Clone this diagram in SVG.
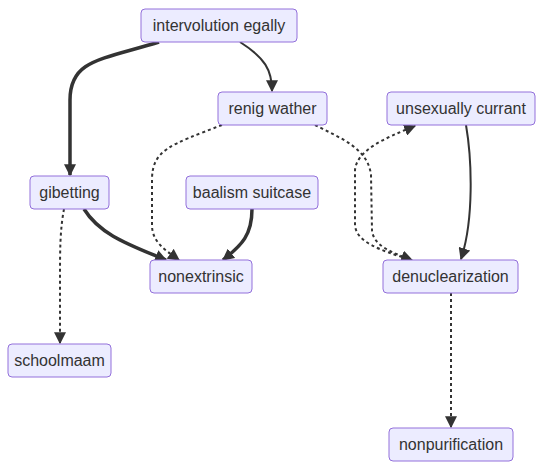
<svg xmlns="http://www.w3.org/2000/svg" width="543" height="470" viewBox="0 0 543 470">
<style>
.node rect{fill:#ECECFF;stroke:#9370DB;stroke-width:1}
.node text{font-family:"Liberation Sans",Arial,sans-serif;font-size:16px;fill:#333;text-anchor:middle;dominant-baseline:central}
.e{fill:none;stroke:#333;stroke-width:2}
.thick{stroke-width:3.5}
.dot{stroke-dasharray:3 3}
</style>
<defs>
<marker id="arr" viewBox="0 0 10 10" refX="9" refY="5" markerUnits="userSpaceOnUse" markerWidth="12" markerHeight="12" orient="auto">
<path d="M0,0 L10,5 L0,10 z" fill="#333"/>
</marker>
</defs>
<rect width="543" height="470" fill="#fff"/>
<g id="edges">
<path class="e thick" d="M159,42 C100,60 70,60 70,100 L70,175" marker-end="url(#arr)"/>
<path class="e" d="M240,42 C265,58 272,70 272,91" marker-end="url(#arr)"/>
<path class="e thick" d="M84,209 C100,235 130,245 166,260" marker-end="url(#arr)"/>
<path class="e thick" d="M252,209 C252,235 242,245 223,260" marker-end="url(#arr)"/>
<path class="e dot" d="M222,125 C170,145 152,150 152,180 L152,225 C152,242 165,250 179,260" marker-end="url(#arr)"/>
<path class="e dot" d="M315,125 C340,138 368,148 371,175 L372,230 C373,245 390,252 412,260" marker-end="url(#arr)"/>
<path class="e dot" d="M408,259 C380,250 356,242 355,225 L355,170 C357,150 385,138 415,126" marker-end="url(#arr)"/>
<path class="e" d="M466,125 C472,160 474,220 461,259" marker-end="url(#arr)"/>
<path class="e dot" d="M64,209 C60,230 60,250 60,280 L60,343" marker-end="url(#arr)"/>
<path class="e dot" d="M451,293 L451,427" marker-end="url(#arr)"/>
</g>
<g id="n-intervolution" class="node"><rect x="141" y="9" width="156" height="33" rx="4"/><text x="219" y="25.5">intervolution egally</text></g>
<g id="n-renig" class="node"><rect x="218" y="92" width="109" height="33" rx="4"/><text x="272.5" y="108.5">renig wather</text></g>
<g id="n-unsexually" class="node"><rect x="387" y="92" width="148" height="33" rx="4"/><text x="461" y="108.5">unsexually currant</text></g>
<g id="n-gibetting" class="node"><rect x="30" y="176" width="79" height="33" rx="4"/><text x="69.5" y="192.5">gibetting</text></g>
<g id="n-baalism" class="node"><rect x="186" y="176" width="132" height="33" rx="4"/><text x="252" y="192.5">baalism suitcase</text></g>
<g id="n-nonextrinsic" class="node"><rect x="150" y="260" width="102" height="33" rx="4"/><text x="201" y="276.5">nonextrinsic</text></g>
<g id="n-denuclearization" class="node"><rect x="383" y="260" width="135" height="33" rx="4"/><text x="450.5" y="276.5">denuclearization</text></g>
<g id="n-schoolmaam" class="node"><rect x="8" y="344" width="103" height="33" rx="4"/><text x="59.5" y="360.5">schoolmaam</text></g>
<g id="n-nonpurification" class="node"><rect x="389" y="428" width="124" height="33" rx="4"/><text x="451" y="444.5">nonpurification</text></g>
</svg>
